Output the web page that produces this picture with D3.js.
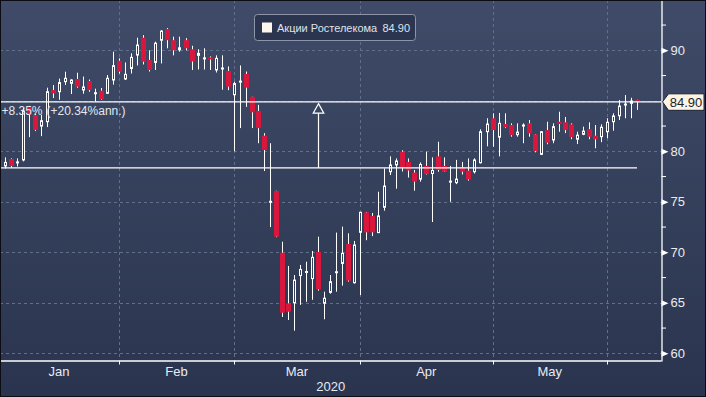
<!DOCTYPE html>
<html>
<head>
<meta charset="utf-8">
<script src="https://cdn.jsdelivr.net/npm/d3@7"></script>
<style>
  body { margin: 0; background: #000; }
  svg { display: block; font-family: "Liberation Sans", Arial, sans-serif; }
</style>
</head>
<body>
<div id="chart"></div>
<script>
// Daily candles, trading-day index 0..106 (Jan to early Jun 2020)
const opens = [79.14, 78.55, 79.24, 78.9, 79.14, 84.39, 83.6, 82.5, 82.93, 86.07,
  85.9, 86.9, 86.73, 87.16, 86.07, 86.96, 85.7, 86.0, 85.74, 87.06,
  88.97, 87.16, 88.2, 89.53, 91.25, 89.04, 88.8, 91.0, 92.1, 91.0,
  90.05, 91.0, 90.1, 89.5, 89.2, 89.3, 88.05, 88.2, 87.95, 85.6,
  86.85, 87.65, 85.4, 84.0, 81.55, 75.0, 76.07, 69.96, 64.95, 65.0,
  67.7, 68.0, 67.4, 70.03, 64.96, 66.04, 68.0, 68.9, 70.82, 66.99,
  71.98, 73.96, 73.6, 71.95, 74.46, 77.98, 78.65, 79.96, 78.95, 77.9,
  77.25, 78.55, 77.8, 79.5, 78.55, 76.95, 76.9, 78.4, 78.08, 77.98,
  78.87, 81.94, 83.27, 81.4, 82.7, 82.6, 81.65, 82.5, 82.77, 81.68,
  79.7, 82.1, 81.12, 82.93, 82.87, 82.67, 81.2, 81.68, 82.2, 81.55,
  81.45, 81.94, 82.93, 83.52, 84.6, 84.75, 85.08];
const highs = [79.3, 79.4, 79.3, 79.3, 84.3, 84.5, 83.7, 83.6, 86.3, 86.56,
  87.2, 87.88, 87.13, 87.78, 87.4, 87.1, 86.2, 86.27, 87.55, 89.86,
  89.2, 88.8, 89.7, 91.25, 91.5, 90.0, 90.85, 92.0, 92.2, 91.35,
  91.35, 91.2, 90.45, 90.1, 90.2, 89.4, 89.5, 89.5, 88.4, 86.9,
  88.5, 87.9, 85.4, 84.6, 81.8, 80.8, 76.1, 71.05, 68.65, 67.75,
  68.75, 69.07, 70.13, 71.55, 66.1, 67.75, 71.95, 72.54, 71.88, 71.12,
  74.0, 74.0, 73.9, 76.0, 78.3, 79.5, 79.3, 80.1, 79.3, 78.15,
  78.9, 79.96, 79.4, 80.95, 79.4, 78.55, 79.15, 78.95, 79.3, 79.3,
  82.18, 83.27, 83.76, 83.8, 83.76, 82.77, 82.77, 82.77, 83.1, 81.7,
  82.0, 82.93, 82.77, 83.92, 83.4, 82.77, 81.94, 82.44, 82.87, 82.6,
  82.67, 83.27, 83.76, 85.08, 85.57, 85.3, 85.1];
const lows = [78.4, 78.3, 78.4, 78.5, 79.0, 81.4, 82.0, 81.5, 82.4, 85.28,
  85.1, 86.56, 85.67, 86.3, 85.7, 85.9, 84.9, 85.1, 85.7, 86.6,
  87.7, 87.06, 87.7, 88.5, 88.6, 87.9, 88.05, 88.7, 90.2, 89.5,
  89.86, 90.0, 88.05, 88.1, 88.1, 88.05, 87.8, 86.1, 86.05, 80.0,
  82.3, 84.4, 82.3, 80.8, 78.05, 72.5, 71.5, 63.6, 63.3, 62.24,
  64.8, 65.1, 65.3, 66.2, 63.37, 65.9, 66.1, 66.7, 67.1, 66.9,
  65.77, 71.2, 71.6, 71.9, 74.12, 77.65, 76.3, 78.0, 77.4, 76.1,
  77.0, 77.7, 73.0, 77.98, 77.95, 75.0, 76.75, 77.7, 77.1, 77.8,
  78.8, 80.5, 80.45, 79.5, 82.3, 81.45, 81.45, 80.8, 81.45, 79.9,
  79.63, 80.7, 80.8, 81.94, 81.8, 81.2, 80.72, 81.6, 81.2, 80.3,
  80.9, 81.3, 82.04, 83.1, 83.27, 83.27, 84.1];
const closes = [78.48, 78.9, 78.54, 78.95, 83.99, 83.6, 82.1, 83.03, 85.9, 85.74,
  86.8, 87.23, 87.06, 86.4, 86.37, 86.07, 85.8, 85.15, 87.23, 88.48,
  87.88, 87.62, 89.3, 90.52, 88.87, 88.05, 90.7, 91.9, 91.0, 90.0,
  90.25, 90.2, 88.9, 89.7, 89.25, 89.1, 89.2, 88.25, 86.4, 86.7,
  86.95, 86.3, 83.86, 82.3, 80.13, 75.05, 71.55, 64.02, 64.12, 67.25,
  68.3, 68.1, 69.5, 66.34, 65.46, 67.09, 68.08, 69.9, 67.2, 70.72,
  73.96, 71.98, 71.98, 73.6, 76.56, 78.65, 79.04, 78.4, 78.1, 76.99,
  78.7, 77.75, 78.1, 78.15, 77.98, 77.05, 77.25, 77.98, 77.23, 79.14,
  81.94, 82.7, 82.1, 82.77, 82.38, 81.6, 81.9, 82.6, 81.78, 80.03,
  81.94, 80.85, 82.44, 82.7, 82.1, 81.4, 81.6, 82.0, 81.45, 81.2,
  82.38, 82.87, 83.5, 84.48, 84.68, 84.98, 84.9];

// Axis content
const monthStarts = [0, 20, 39, 60, 82, 101];
const monthLabels = ["Jan", "Feb", "Mar", "Apr", "May"];
const yearLabel = "2020";
const yTicks = [60, 65, 70, 75, 80, 90];
const yGrid = [60, 65, 70, 75, 80, 85, 90];
const yMinorTicks = [62.5, 67.5, 72.5, 77.5, 82.5, 87.5, 92.5];

// Annotation / legend content
const lastPrice = 84.90;
const basePrice = 78.36;
const annotIdx = 53;
const changeText = "+8.35%";
const annText = "(+20.34%ann.)";
const legendName = "Акции Ростелекома";

const width = 706;
const height = 397;
const plotRight = 661.5;
const plotBottom = 361;
const red = "#d9173c";

const drawChart = () => {

  /*******************************/
  /*    Append the containers    */
  /*******************************/
  const svg = d3.select("#chart")
    .append("svg")
      .attr("width", width)
      .attr("height", height);

  const defs = svg.append("defs");
  const grad = defs.append("linearGradient")
      .attr("id", "bg")
      .attr("x1", 0).attr("y1", 0).attr("x2", 0).attr("y2", 1);
  grad.append("stop").attr("offset", "0%").attr("stop-color", "#3f4b68");
  grad.append("stop").attr("offset", "100%").attr("stop-color", "#2a344e");

  defs.append("clipPath")
      .attr("id", "plot-clip")
    .append("rect")
      .attr("x", 0).attr("y", 0)
      .attr("width", plotRight).attr("height", plotBottom);

  svg.append("rect")
      .attr("width", width)
      .attr("height", height)
      .attr("fill", "url(#bg)");

  /****************************/
  /*    Declare the scales    */
  /****************************/
  const xScale = d3.scaleLinear()
    .domain([0, 106])
    .range([-1.1, 637]);

  const yScale = d3.scaleLinear()
    .domain([59.24, 94.98])
    .range([plotBottom, 0]);

  /***************************/
  /*       Grid lines        */
  /***************************/
  const grid = svg.append("g")
      .attr("stroke", "#5f6f8c")
      .attr("stroke-width", 1)
      .attr("stroke-dasharray", "3,3");
  grid.selectAll(".hgrid")
    .data(yGrid)
    .join("line")
      .attr("x1", 0)
      .attr("x2", plotRight)
      .attr("y1", d => Math.round(yScale(d)) + 0.5)
      .attr("y2", d => Math.round(yScale(d)) + 0.5);
  grid.selectAll(".vgrid")
    .data(monthStarts.slice(1))
    .join("line")
      .attr("x1", d => Math.round(xScale(d)) + 0.5)
      .attr("x2", d => Math.round(xScale(d)) + 0.5)
      .attr("y1", 0)
      .attr("y2", plotBottom);

  /***************************/
  /*      Draw candles       */
  /***************************/
  const candles = opens.map((o, i) => ({
    i, open: o, high: highs[i], low: lows[i], close: closes[i]
  }));

  const plot = svg.append("g")
      .attr("clip-path", "url(#plot-clip)");

  const candle = plot.selectAll(".candle")
    .data(candles)
    .join("g")
      .attr("class", "candle");

  candle.append("line")
      .attr("x1", d => Math.round(xScale(d.i)) + 0.5)
      .attr("x2", d => Math.round(xScale(d.i)) + 0.5)
      .attr("y1", d => yScale(d.high))
      .attr("y2", d => yScale(d.low))
      .attr("stroke", "#ffffff")
      .attr("stroke-width", 1);

  candle.filter(d => d.close < d.open)
    .append("rect")
      .attr("x", d => Math.round(xScale(d.i)) - 2)
      .attr("width", 5)
      .attr("y", d => yScale(d.open))
      .attr("height", d => Math.max(1.5, yScale(d.close) - yScale(d.open)))
      .attr("fill", red);

  candle.filter(d => d.close >= d.open)
    .append("rect")
      .attr("x", d => Math.round(xScale(d.i)) - 0.5)
      .attr("width", 2)
      .attr("y", d => yScale(d.close))
      .attr("height", d => Math.max(1, yScale(d.open) - yScale(d.close)))
      .attr("fill", "#34405b")
      .attr("stroke", "#ffffff")
      .attr("stroke-width", 1);

  /***************************/
  /*   Reference lines       */
  /***************************/
  svg.append("line")
      .attr("x1", 0)
      .attr("x2", plotRight)
      .attr("y1", yScale(lastPrice))
      .attr("y2", yScale(lastPrice))
      .attr("stroke", "#ffffff")
      .attr("stroke-width", 1.3);

  svg.append("line")
      .attr("x1", 0)
      .attr("x2", xScale(106))
      .attr("y1", yScale(basePrice))
      .attr("y2", yScale(basePrice))
      .attr("stroke", "#ffffff")
      .attr("stroke-width", 1.3);

  // Up arrow between the two levels
  const ax = Math.round(xScale(annotIdx)) + 0.5;
  const tipY = yScale(lastPrice) + 1.8;
  const baseY = tipY + 9.5;
  svg.append("line")
      .attr("x1", ax).attr("x2", ax)
      .attr("y1", baseY)
      .attr("y2", yScale(basePrice))
      .attr("stroke", "#ffffff")
      .attr("stroke-width", 1.2);
  svg.append("path")
      .attr("d", `M${ax},${tipY} L${ax + 5.3},${baseY} L${ax - 5.3},${baseY} Z`)
      .attr("fill", "#38445f")
      .attr("stroke", "#ffffff")
      .attr("stroke-width", 1.2);

  // Change text
  const change = svg.append("text")
      .attr("y", yScale(lastPrice) + 12.8)
      .attr("font-size", 12)
      .attr("fill", "#e4e7ee");
  change.append("tspan").attr("x", 1.5).text(changeText);
  change.append("tspan").attr("x", 46.5).text(annText);

  /***************************/
  /*     Append the axes     */
  /***************************/
  // Bottom axis
  const bottomAxis = d3.axisBottom(xScale)
    .tickValues(monthStarts)
    .tickFormat("")
    .tickSize(3.5)
    .tickSizeOuter(0);
  const axisX = svg.append("g")
      .attr("class", "axis-x")
      .attr("transform", `translate(0, ${plotBottom})`)
      .call(bottomAxis);
  axisX.select(".domain").remove();
  axisX.selectAll(".tick line").attr("stroke", "#ffffff");
  axisX.selectAll(".tick")
      .attr("transform", d => `translate(${Math.max(0.5, Math.round(xScale(d)) + 0.5)},0)`);

  svg.append("line")
      .attr("x1", 0).attr("x2", plotRight)
      .attr("y1", plotBottom).attr("y2", plotBottom)
      .attr("stroke", "#ffffff")
      .attr("stroke-width", 1.3);

  svg.selectAll(".month-label")
    .data(monthLabels)
    .join("text")
      .attr("class", "month-label")
      .attr("x", (d, i) => (xScale(monthStarts[i]) + xScale(monthStarts[i + 1])) / 2)
      .attr("y", 376)
      .attr("text-anchor", "middle")
      .attr("font-size", 13)
      .attr("fill", "#e8ebf0")
      .text(d => d);

  svg.append("text")
      .attr("x", plotRight / 2)
      .attr("y", 391)
      .attr("text-anchor", "middle")
      .attr("font-size", 13)
      .attr("fill", "#e8ebf0")
      .text(yearLabel);

  // Right axis
  const rightAxis = d3.axisRight(yScale)
    .tickValues(yTicks)
    .tickSize(0)
    .tickSizeOuter(0)
    .tickPadding(9);
  const axisY = svg.append("g")
      .attr("class", "axis-y")
      .attr("transform", `translate(${plotRight}, 0)`)
      .call(rightAxis);
  axisY.select(".domain")
      .attr("stroke", "#ffffff")
      .attr("stroke-width", 1.3);
  axisY.selectAll(".tick text")
      .attr("font-size", 13)
      .attr("font-family", "'Liberation Sans', Arial, sans-serif")
      .attr("fill", "#e8ebf0");
  axisY.selectAll(".tick")
    .append("path")
      .attr("d", "M0,-3 L7,0 L0,3 Z")
      .attr("fill", "#ffffff");

  axisY.selectAll(".minor")
    .data(yMinorTicks)
    .join("line")
      .attr("x1", 0).attr("x2", 4.5)
      .attr("y1", d => yScale(d))
      .attr("y2", d => yScale(d))
      .attr("stroke", "#ffffff")
      .attr("stroke-width", 1);

  // Last price tag
  const ly = yScale(lastPrice);
  svg.append("path")
      .attr("d", `M${plotRight + 1},${ly} L${plotRight + 7},${ly - 8} L704,${ly - 8} L704,${ly + 8.5} L${plotRight + 7},${ly + 8.5} Z`)
      .attr("fill", "#fdf3e4")
      .attr("stroke", "#1c2233")
      .attr("stroke-width", 1);
  svg.append("text")
      .attr("x", 686)
      .attr("y", ly + 4.8)
      .attr("text-anchor", "middle")
      .attr("font-size", 13)
      .attr("fill", "#1a1d26")
      .text(lastPrice.toFixed(2));

  /***************************/
  /*        Legend           */
  /***************************/
  const legend = svg.append("g")
      .attr("transform", "translate(254.5, 14.5)");
  legend.append("rect")
      .attr("width", 161)
      .attr("height", 26)
      .attr("rx", 3)
      .attr("fill", "#2b3550")
      .attr("stroke", "#8c95a8")
      .attr("stroke-width", 1);
  legend.append("rect")
      .attr("x", 7.5).attr("y", 8)
      .attr("width", 10).attr("height", 10)
      .attr("fill", "#fdf6ec");
  legend.append("text")
      .attr("x", 22.5)
      .attr("y", 17.3)
      .attr("font-size", 11)
      .attr("fill", "#dfe3ea")
      .text(legendName);
  legend.append("text")
      .attr("x", 128)
      .attr("y", 17.3)
      .attr("font-size", 11)
      .attr("fill", "#dfe3ea")
      .text(lastPrice.toFixed(2));

  // Frame
  svg.append("rect")
      .attr("x", 0.5).attr("y", 0.5)
      .attr("width", width - 1).attr("height", height - 1)
      .attr("fill", "none")
      .attr("stroke", "#0b0d12")
      .attr("stroke-width", 1);
};

drawChart();
</script>
</body>
</html>
